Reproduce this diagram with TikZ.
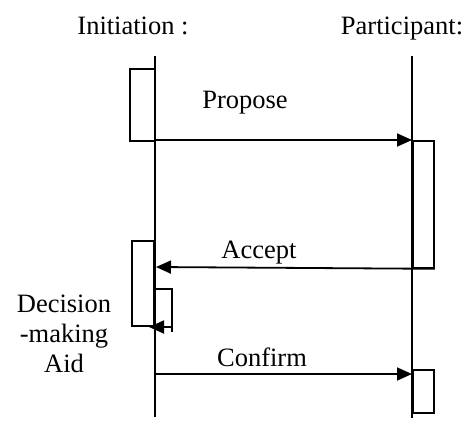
\documentclass[tikz,border=0pt]{standalone}
\usepackage{fontspec}
\setmainfont{Liberation Serif}
\usetikzlibrary{arrows.meta}
\begin{document}
\begin{tikzpicture}[x=1pt,y=-1pt,
  every node/.style={font=\fontsize{26.5}{30}\selectfont, inner sep=0pt},
  label/.style={anchor=base},
  lifeline/.style={line width=2pt},
  actbox/.style={draw, line width=1.8pt, anchor=north west, fill=white},
  msg/.style={line width=1.8pt, -{Triangle[length=15pt,width=13pt]}},
  plain/.style={line width=1.8pt}]
\useasboundingbox (0,0) rectangle (470,432);

% object headings
\node[label] (initTitle) at (133,34) {Initiation :};
\node[label] (partTitle) at (402,34) {Participant:};

% lifelines
\coordinate (initTop) at (155,56);
\coordinate (initBot) at (155,417);
\coordinate (partTop) at (412,56);
\coordinate (partBot) at (412,418);

% activation bars
\node[actbox, minimum width=25pt, minimum height=72pt] (actA) at (129,68) {};
\node[actbox, minimum width=21pt, minimum height=127pt] (actP) at (412,140) {};
\node[actbox, minimum width=22pt, minimum height=85pt] (actB) at (131,240) {};
\node[actbox, minimum width=21pt, minimum height=43pt] (actQ) at (412,369) {};
\draw[lifeline] (initTop) -- (initBot);
\draw[lifeline] (partTop) -- (partBot);

% Propose
\coordinate (propFrom) at (155,140);
\draw[msg] (propFrom) -- (actP.north west);
\node[label] (propose) at (245,108) {Propose};

% Accept
\coordinate (accTo) at (156,267);
\draw[msg] (actP.south east) -- (accTo);
\node[label] (accept) at (259,258) {Accept};

% self call: decision-making aid
\coordinate (selfA) at (155,289);
\coordinate (selfB) at (172,289);
\coordinate (selfC) at (172,332);
\coordinate (selfD) at (172,327);
\coordinate (selfE) at (149,327);
\draw[plain] (selfA) -- (selfB) -- (selfC);
\draw[msg] (selfD) -- (selfE);
\node[label] (dec1) at (64,312) {Decision};
\node[label] (dec2) at (64,342) {-making};
\node[label] (dec3) at (64,372) {Aid};

% Confirm
\coordinate (confFrom) at (155,374);
\coordinate (confTo) at (412,374);
\draw[msg] (confFrom) -- (confTo);
\node[label] (confirm) at (262,366) {Confirm};
\end{tikzpicture}
\end{document}
